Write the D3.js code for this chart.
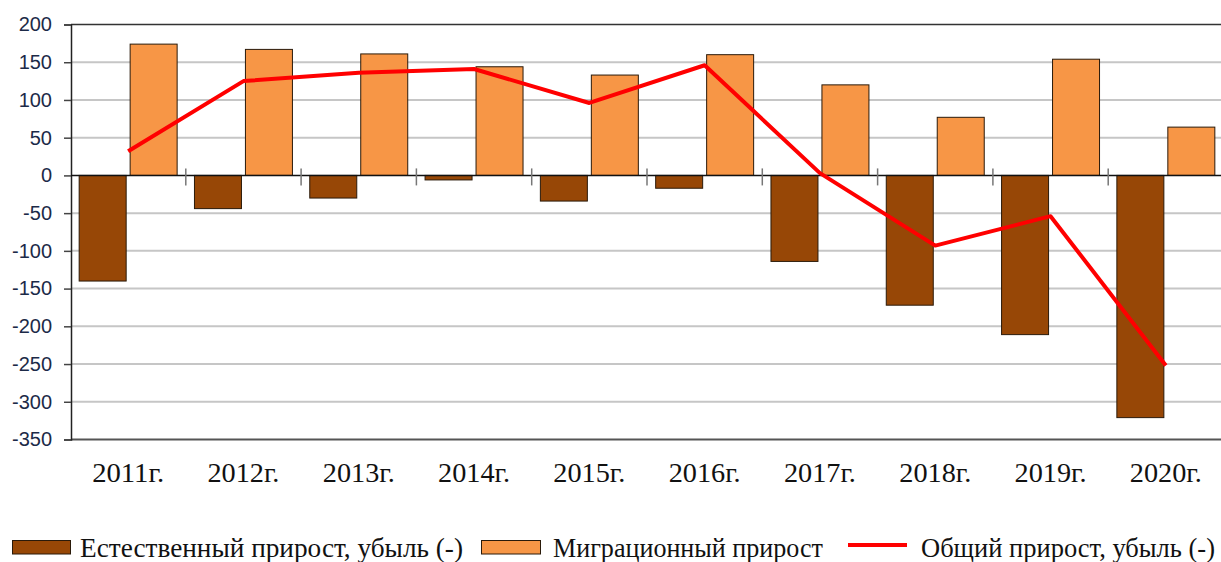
<!DOCTYPE html>
<html><head><meta charset="utf-8">
<script src="https://cdn.jsdelivr.net/npm/d3@7"></script>
<style>html,body{margin:0;padding:0;background:#fff;}svg{display:block;}</style>
</head><body>
<svg id="chart" width="1221" height="562"></svg>
<script>
const categories = ["2011г.","2012г.","2013г.","2014г.","2015г.","2016г.","2017г.","2018г.","2019г.","2020г."];
const naturalGrowth = [-140,-44,-30,-6,-34,-17,-114,-172,-211,-321];
const migrationGrowth = [174,167,161,144,133,160,120,77,154,64];
const totalGrowth = [32,125,136,141,96,146,3,-93,-54,-252];
const yTicks = [200,150,100,50,0,-50,-100,-150,-200,-250,-300,-350];
const seriesNames = ["Естественный  прирост,  убыль (-)","Миграционный  прирост","Общий прирост, убыль (-)"];

const svg = d3.select("#chart");
const x = d3.scaleBand().domain(categories).range([70.5, 1223.5]).paddingInner(0).paddingOuter(0);
const xi = d3.scaleBand().domain(["nat","mig"]).range([0, x.bandwidth()]).paddingInner(0.078).paddingOuter(0.17);
const y = d3.scaleLinear().domain([-350,200]).range([439.5,24.5]);

// gridlines
svg.append("g").selectAll("line").data(yTicks.filter(v=>v!==0 && v!==200 && v!==-350)).join("line")
  .attr("x1",71).attr("x2",1221).attr("y1",d=>y(d)).attr("y2",d=>y(d))
  .attr("stroke","#c6c6c6").attr("stroke-width",2);
svg.append("line").attr("x1",71).attr("x2",1221).attr("y1",y(200)).attr("y2",y(200)).attr("stroke","#333").attr("stroke-width",1.5);
svg.append("line").attr("x1",71).attr("x2",1221).attr("y1",y(-350)).attr("y2",y(-350)).attr("stroke","#555").attr("stroke-width",2);

// y axis
const yAxis = d3.axisLeft(y).tickValues(yTicks).tickSize(7).tickPadding(12).tickFormat(d => String(d));
const gy = svg.append("g").attr("transform","translate(71,0)").call(yAxis);
gy.select(".domain").attr("stroke","#222").attr("stroke-width",1.5);
gy.selectAll(".tick line").attr("stroke","#444").attr("stroke-width",1.5);
gy.selectAll(".tick text").attr("font-family","'Liberation Sans', Arial, sans-serif").attr("font-size",20).attr("fill","#1c2a48");

// bars
const g = svg.append("g");
g.selectAll("rect.nat").data(naturalGrowth).join("rect").attr("class","nat")
  .attr("x",(d,i)=>x(categories[i])+xi("nat")).attr("width",xi.bandwidth())
  .attr("y",d=>Math.min(y(d),y(0))).attr("height",d=>Math.abs(y(d)-y(0)))
  .attr("fill","#974706").attr("stroke","#2a1a0a").attr("stroke-width",1);
g.selectAll("rect.mig").data(migrationGrowth).join("rect").attr("class","mig")
  .attr("x",(d,i)=>x(categories[i])+xi("mig")).attr("width",xi.bandwidth())
  .attr("y",d=>Math.min(y(d),y(0))).attr("height",d=>Math.abs(y(d)-y(0)))
  .attr("fill","#f79646").attr("stroke","#2a1a0a").attr("stroke-width",1);

// zero line
svg.append("line").attr("x1",71).attr("x2",1221).attr("y1",y(0)).attr("y2",y(0)).attr("stroke","#111").attr("stroke-width",1.5);
svg.append("g").selectAll("line").data(categories.slice(1)).join("line")
  .attr("x1",d=>x(d)).attr("x2",d=>x(d)).attr("y1",y(0)-7).attr("y2",y(0)+10)
  .attr("stroke","#777").attr("stroke-width",1.5);

// x labels
svg.append("g").selectAll("text").data(categories).join("text")
  .attr("x",d=>x(d)+x.bandwidth()/2).attr("y",482).attr("text-anchor","middle")
  .attr("font-family","'Liberation Serif','Times New Roman',serif").attr("font-size",27).attr("fill","#111")
  .attr("textLength",72).attr("lengthAdjust","spacingAndGlyphs")
  .text(d=>d);

// line
const line = d3.line().x((d,i)=>x(categories[i])+x.bandwidth()/2).y(d=>y(d));
svg.append("path").datum(totalGrowth).attr("d",line).attr("fill","none")
  .attr("stroke","#ff0000").attr("stroke-width",4).attr("stroke-linejoin","round");

// legend
const lg = svg.append("g").attr("font-family","'Liberation Serif','Times New Roman',serif").attr("font-size",27).attr("fill","#111").attr("xml:space","preserve").style("white-space","pre");
lg.append("rect").attr("x",12.5).attr("y",540.5).attr("width",58).attr("height",13.5).attr("fill","#974706").attr("stroke","#2a1a0a");
lg.append("text").attr("x",80).attr("y",557).attr("textLength",383).attr("lengthAdjust","spacingAndGlyphs").text(seriesNames[0]);
lg.append("rect").attr("x",481.5).attr("y",540.5).attr("width",59).attr("height",13.5).attr("fill","#f79646").attr("stroke","#2a1a0a");
lg.append("text").attr("x",553).attr("y",557).attr("textLength",270).attr("lengthAdjust","spacingAndGlyphs").text(seriesNames[1]);
lg.append("line").attr("x1",848).attr("x2",907).attr("y1",545).attr("y2",545).attr("stroke","#ff0000").attr("stroke-width",4);
lg.append("text").attr("x",921).attr("y",557).attr("textLength",294).attr("lengthAdjust","spacingAndGlyphs").text(seriesNames[2]);
</script>
</body></html>
